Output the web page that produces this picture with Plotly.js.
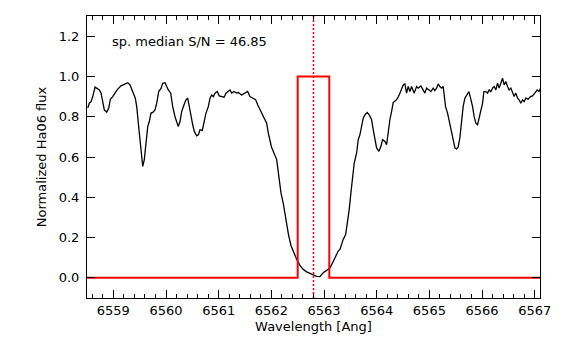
<!DOCTYPE html>
<html>
<head>
<meta charset="utf-8">
<script src="https://cdn.plot.ly/plotly-3.0.1.min.js"></script>
<style>
  html, body { margin: 0; padding: 0; background: #fff; }
  #the_plot { width: 581px; height: 339px; }
</style>
</head>
<body>
<div id="the_plot"></div>
<script>
window.addEventListener("load", setup);

// spectrum (wavelength in Angstrom, normalized flux)
var wave = [
  6558.514, 6558.545, 6558.577, 6558.609, 6558.653, 6558.704, 6558.734, 6558.767, 6558.799, 6558.829,
  6558.875, 6558.913, 6558.943, 6558.989, 6559.038, 6559.083, 6559.146, 6559.209, 6559.273, 6559.317,
  6559.368, 6559.417, 6559.444, 6559.463, 6559.493, 6559.526, 6559.558, 6559.588, 6559.620, 6559.653,
  6559.683, 6559.715, 6559.748, 6559.791, 6559.824, 6559.861, 6559.905, 6559.937, 6559.981, 6560.013,
  6560.044, 6560.089, 6560.127, 6560.171, 6560.203, 6560.233, 6560.266, 6560.298, 6560.342, 6560.379,
  6560.412, 6560.442, 6560.474, 6560.507, 6560.537, 6560.583, 6560.613, 6560.645, 6560.689, 6560.721,
  6560.759, 6560.803, 6560.835, 6560.867, 6560.898, 6560.930, 6560.973, 6561.011, 6561.057, 6561.101,
  6561.139, 6561.182, 6561.214, 6561.247, 6561.290, 6561.342, 6561.372, 6561.436, 6561.499, 6561.550,
  6561.594, 6561.657, 6561.702, 6561.740, 6561.784, 6561.816, 6561.865, 6561.911, 6561.941, 6562.002,
  6562.101, 6562.144, 6562.182, 6562.230, 6562.277, 6562.325, 6562.372, 6562.429, 6562.480, 6562.543,
  6562.605, 6562.670, 6562.732, 6562.795, 6562.860, 6562.922, 6562.985, 6563.049, 6563.112, 6563.163,
  6563.226, 6563.269, 6563.302, 6563.334, 6563.364, 6563.410, 6563.448, 6563.478, 6563.510, 6563.543,
  6563.573, 6563.619, 6563.649, 6563.681, 6563.713, 6563.744, 6563.776, 6563.820, 6563.858, 6563.903,
  6563.934, 6563.966, 6563.998, 6564.042, 6564.080, 6564.112, 6564.156, 6564.188, 6564.218, 6564.250,
  6564.283, 6564.313, 6564.359, 6564.397, 6564.440, 6564.472, 6564.503, 6564.535, 6564.567, 6564.598,
  6564.630, 6564.662, 6564.712, 6564.757, 6564.787, 6564.839, 6564.882, 6564.915, 6564.947, 6564.990,
  6565.028, 6565.072, 6565.104, 6565.137, 6565.167, 6565.199, 6565.231, 6565.262, 6565.281, 6565.307,
  6565.345, 6565.376, 6565.408, 6565.440, 6565.484, 6565.516, 6565.546, 6565.579, 6565.611, 6565.641,
  6565.674, 6565.717, 6565.750, 6565.782, 6565.820, 6565.850, 6565.882, 6565.915, 6565.945, 6565.977,
  6566.010, 6566.034, 6566.072, 6566.104, 6566.135, 6566.167, 6566.199, 6566.230, 6566.262, 6566.294,
  6566.324, 6566.357, 6566.389, 6566.419, 6566.452, 6566.484, 6566.514, 6566.547, 6566.579, 6566.609,
  6566.641, 6566.674, 6566.704, 6566.736, 6566.769, 6566.799, 6566.831, 6566.875, 6566.920, 6566.958,
  6567.002, 6567.046, 6567.083, 6567.110
];
var flux = [
  0.843, 0.867, 0.875, 0.900, 0.947, 0.940, 0.933, 0.917, 0.867, 0.834,
  0.823, 0.843, 0.887, 0.900, 0.920, 0.937, 0.953, 0.963, 0.969, 0.958,
  0.925, 0.892, 0.850, 0.785, 0.719, 0.636, 0.553, 0.587, 0.686, 0.751,
  0.776, 0.818, 0.821, 0.834, 0.867, 0.925, 0.940, 0.966, 0.969, 0.950,
  0.933, 0.917, 0.850, 0.800, 0.776, 0.751, 0.776, 0.826, 0.859, 0.884,
  0.892, 0.843, 0.800, 0.760, 0.727, 0.705, 0.710, 0.735, 0.732, 0.776,
  0.818, 0.850, 0.892, 0.908, 0.900, 0.917, 0.925, 0.903, 0.900, 0.897,
  0.917, 0.925, 0.933, 0.917, 0.925, 0.917, 0.920, 0.908, 0.917, 0.925,
  0.900, 0.892, 0.884, 0.859, 0.834, 0.818, 0.793, 0.768, 0.720, 0.650,
  0.587, 0.488, 0.423, 0.364, 0.280, 0.215, 0.161, 0.121, 0.092, 0.062,
  0.042, 0.030, 0.022, 0.012, 0.007, 0.006, 0.025, 0.037, 0.050, 0.075,
  0.108, 0.133, 0.141, 0.174, 0.191, 0.215, 0.273, 0.339, 0.422, 0.504,
  0.570, 0.620, 0.686, 0.710, 0.751, 0.793, 0.809, 0.821, 0.809, 0.785,
  0.735, 0.686, 0.645, 0.628, 0.653, 0.686, 0.677, 0.661, 0.727, 0.785,
  0.826, 0.870, 0.880, 0.892, 0.917, 0.937, 0.958, 0.963, 0.917, 0.950,
  0.925, 0.950, 0.917, 0.950, 0.942, 0.953, 0.933, 0.917, 0.942, 0.933,
  0.925, 0.942, 0.930, 0.942, 0.963, 0.950, 0.942, 0.950, 0.917, 0.850,
  0.818, 0.776, 0.744, 0.702, 0.645, 0.640, 0.649, 0.695, 0.790, 0.850,
  0.892, 0.908, 0.925, 0.892, 0.850, 0.800, 0.768, 0.760, 0.793, 0.826,
  0.867, 0.925, 0.925, 0.917, 0.933, 0.925, 0.942, 0.950, 0.933, 0.966,
  0.942, 0.966, 0.991, 0.958, 0.974, 0.950, 0.933, 0.942, 0.917, 0.900,
  0.917, 0.892, 0.884, 0.867, 0.884, 0.875, 0.892, 0.887, 0.900, 0.903,
  0.917, 0.933, 0.925, 0.942
];

// integration window (red box) and line centre
var box_x = [6558.5, 6562.5, 6562.5, 6563.1, 6563.1, 6567.1];
var box_y = [0, 0, 1, 1, 0, 0];
var line_center = 6562.8;
var sn_text = "sp. median S/N = 46.85";

var x_range = [6558.5, 6567.1];
var y_range = [-0.1, 1.3];
var x_ticks = [6559, 6560, 6561, 6562, 6563, 6564, 6565, 6566, 6567];
var y_ticks = [0.0, 0.2, 0.4, 0.6, 0.8, 1.0, 1.2];

function setup() {
    setup_plot()
}

function setup_plot() {
    var data = [
        {x: wave, y: flux, mode: "lines", line: {color: "black", width: 1.3}, hoverinfo: "skip"},
        {x: box_x, y: box_y, mode: "lines", line: {color: "#ff0000", width: 2}, hoverinfo: "skip"},
        {x: [line_center, line_center], y: y_range, mode: "lines",
         line: {color: "#ff0000", width: 1.5, dash: "2px,2px"}, hoverinfo: "skip"}
    ];

    var axis_font = {family: "DejaVu Sans", size: 13, color: "black"};

    var layout = {
        width: 581,
        height: 339,
        margin: {l: 87, r: 41, t: 16, b: 41},
        paper_bgcolor: "white",
        plot_bgcolor: "white",
        showlegend: false,
        font: axis_font,
        xaxis: {
            title: {text: "Wavelength [Ang]", font: axis_font, standoff: 5},
            range: x_range,
            tickvals: x_ticks,
            ticktext: x_ticks.map(String),
            ticks: "inside",
            ticklen: 8,
            tickwidth: 1,
            tickcolor: "black",
            tickfont: axis_font,
            minor: {dtick: 0.2, tick0: 6559, ticks: "inside", ticklen: 4, tickwidth: 1, tickcolor: "black"},
            showline: true,
            linecolor: "black",
            linewidth: 1,
            mirror: "allticks",
            showgrid: false,
            zeroline: false
        },
        yaxis: {
            title: {text: "Normalized Ha06 flux", font: axis_font, standoff: 9},
            range: y_range,
            tickvals: y_ticks,
            ticktext: y_ticks.map(function (v) { return v.toFixed(1) }),
            ticks: "inside",
            ticklen: 8,
            tickwidth: 1,
            tickcolor: "black",
            tickfont: axis_font,
            ticklabelstandoff: 4,
            showline: true,
            linecolor: "black",
            linewidth: 1,
            mirror: "allticks",
            showgrid: false,
            zeroline: false
        },
        annotations: [{
            text: sn_text,
            xref: "paper", yref: "paper",
            x: 0.051, y: 0.908,
            xanchor: "left", yanchor: "middle",
            showarrow: false,
            font: axis_font
        }]
    };

    Plotly.newPlot("the_plot", data, layout, {displayModeBar: false, staticPlot: true});
}
</script>
</body>
</html>
